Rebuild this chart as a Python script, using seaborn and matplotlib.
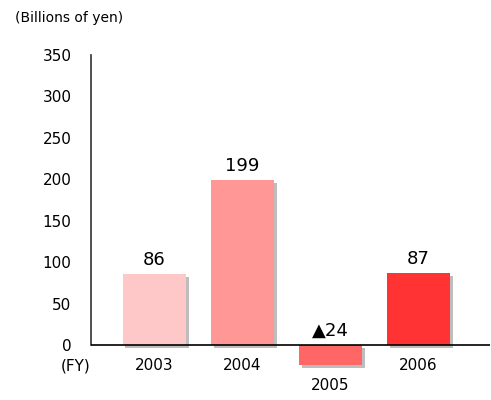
import numpy as np
import pandas as pd
import seaborn as sns
import matplotlib.pyplot as plt
import matplotlib.patheffects as pe

# data
years = ["2003", "2004", "2005", "2006"]
values = [86, 199, -24, 87]
value_labels = ["86", "199", "\u25b224", "87"]
bar_colors = ["#ffc8c8", "#ff9797", "#ff6666", "#ff3333"]
yticks = [0, 50, 100, 150, 200, 250, 300, 350]

df = pd.DataFrame({"year": years, "value": values})

sns.set_style("white")
plt.rcParams['font.family'] = ['DejaVu Sans']
plt.rcParams['text.color'] = 'black'

fig = plt.figure(figsize=(4.91, 4.00), dpi=100)
ax = fig.add_axes([91 / 491, 5 / 400, 399 / 491, 340 / 400])

sns.barplot(data=df, x="year", y="value", hue="year", palette=bar_colors,
            width=0.72, saturation=1, legend=False, linewidth=0, ax=ax)

for bar in ax.patches:
    bar.set_path_effects([pe.SimplePatchShadow(offset=(2, -2), shadow_rgbFace="#888888", alpha=0.55),
                          pe.Normal()])

ax.set_xlim(-0.72, 3.81)
ax.set_ylim(-60, 350)
ax.axhline(0, color="black", lw=1.2, zorder=5)

for s in ["top", "right", "bottom"]:
    ax.spines[s].set_visible(False)
ax.spines["left"].set_bounds(0, 350)
ax.spines["left"].set_color("#333333")
ax.spines["left"].set_linewidth(1.2)

ax.set_yticks(yticks)
ax.set_yticklabels([str(t) for t in yticks], fontsize=11, color="black")
ax.tick_params(axis="y", length=0, pad=14)
ax.set_xticks([])
ax.set_xlabel("")
ax.set_ylabel("")

# value labels
for i, (v, lab) in enumerate(zip(values, value_labels)):
    ytxt = max(v, 0) + 6
    ax.text(i, ytxt, lab, ha="center", va="bottom", fontsize=13, color="black")

# year labels
for i, (y, v) in enumerate(zip(years, values)):
    ypos = -25 if v >= 0 else -49
    ax.text(i, ypos, y, ha="center", va="center", fontsize=11, color="black")

ax.text(-0.72, -25, "(FY)", ha="right", va="center", fontsize=11, color="black")
fig.text(15 / 491, 1 - 18 / 400, "(Billions of yen)", ha="left", va="center", fontsize=10, color="black")

fig.savefig("out.png", dpi=100)
